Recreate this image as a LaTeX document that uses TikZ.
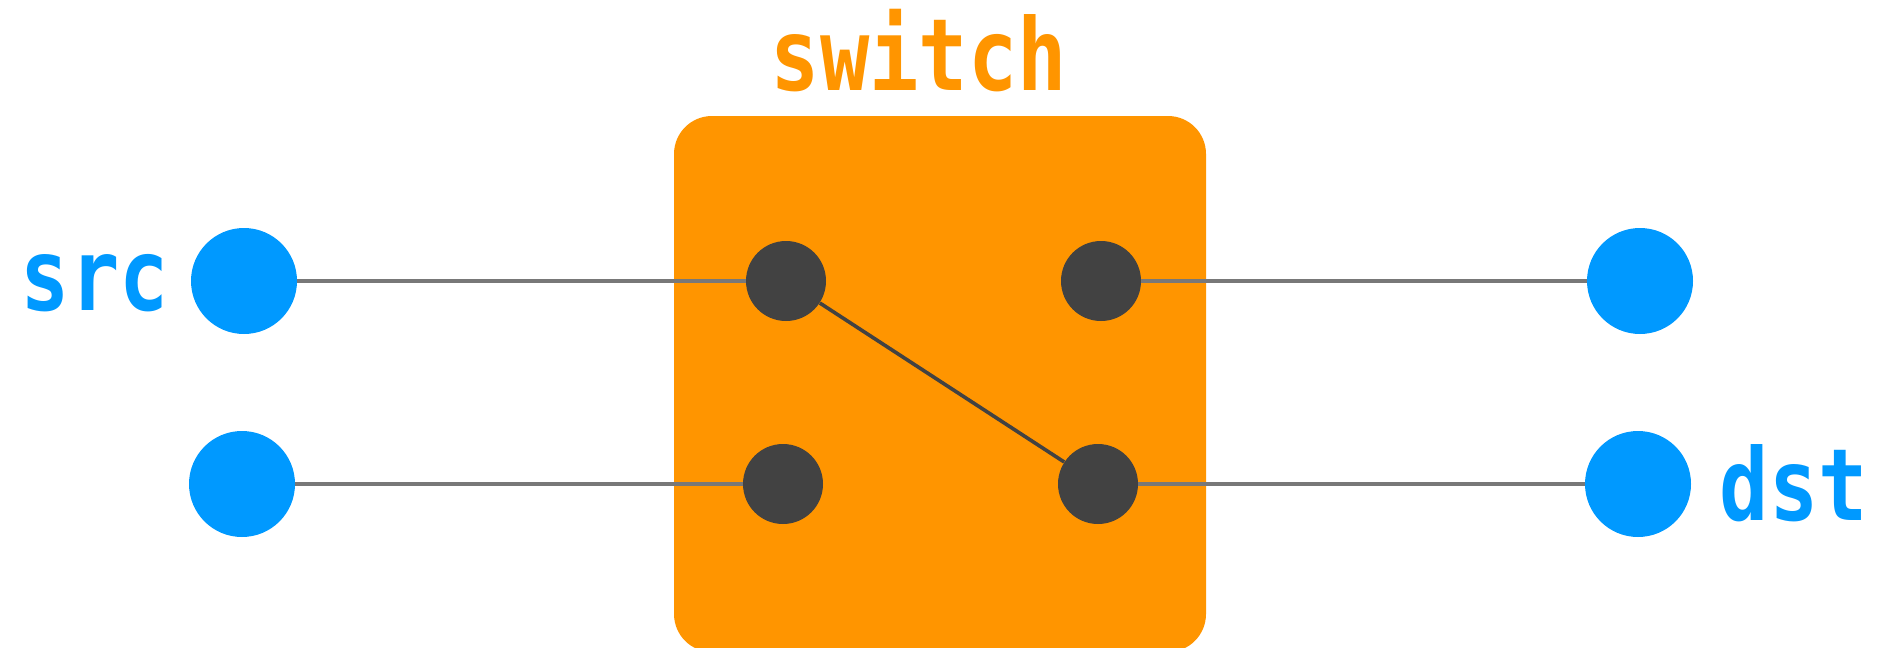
\documentclass[tikz,border=0pt]{standalone}
\usepackage{fontspec}
\newfontfamily\handfont[FakeStretch=0.82]{DejaVu Sans Mono}
\usetikzlibrary{positioning}
\definecolor{hostblue}{HTML}{0099FF}
\definecolor{switchorange}{HTML}{FF9500}
\definecolor{portgray}{HTML}{424242}
\definecolor{linkgray}{HTML}{787878}
\tikzstyle{host} = [circle, fill=hostblue, minimum size=53pt, inner sep=0pt]
\tikzstyle{port} = [circle, fill=portgray, minimum size=40pt, inner sep=0pt]
\tikzstyle{switchbox} = [rectangle, rounded corners=19pt, fill=switchorange, minimum width=266pt, minimum height=268pt]
\tikzstyle{tag} = [font={\handfont\bfseries\fontsize{50}{52}\selectfont}, inner sep=0pt, anchor=base]
\tikzstyle{link} = [line width=2.3pt, linkgray]
\tikzstyle{wire} = [line width=1.8pt, portgray]

\begin{document}
\begin{tikzpicture}[x=0.5pt, y=-0.5pt]

    \useasboundingbox (0, 0) rectangle (1880, 648);

    \node (sw) [switchbox] at (940, 384) {};
    \node (swlabel) [tag, text=switchorange] at (919, 90) {switch};

    \node (src) [host] at (244, 281) {};
    \node (src2) [host] at (242, 484) {};
    \node (dst1) [host] at (1640, 281) {};
    \node (dst) [host] at (1638, 484) {};

    \node (in1) [port] at (786, 281) {};
    \node (in2) [port] at (783, 484) {};
    \node (out1) [port] at (1101, 281) {};
    \node (out2) [port] at (1098, 484) {};

    \node (srclabel) [tag, text=hostblue] at (95, 310) {src};
    \node (dstlabel) [tag, text=hostblue] at (1794, 520) {dst};

    \draw [link] (src) -- (in1);
    \draw [link] (src2) -- (in2);
    \draw [link] (out1) -- (dst1);
    \draw [link] (out2) -- (dst);

    \draw [wire] (in1) -- (out2);

\end{tikzpicture}
\end{document}
